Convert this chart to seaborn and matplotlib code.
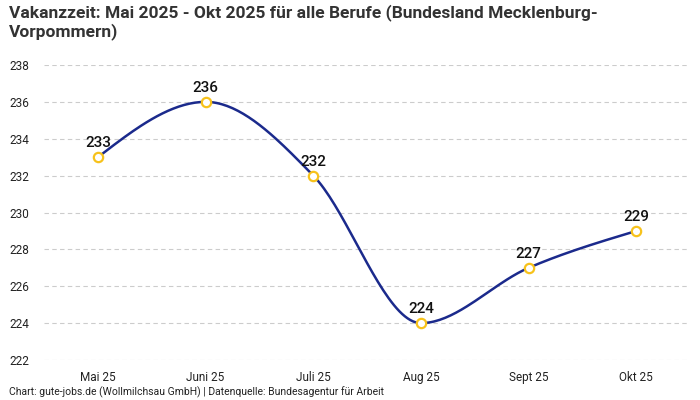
import numpy as np
import pandas as pd
import matplotlib
matplotlib.use("Agg")
import matplotlib.pyplot as plt
import seaborn as sns

# Vakanzzeit Mecklenburg-Vorpommern, alle Berufe
months = ["Mai 25", "Juni 25", "Juli 25", "Aug 25", "Sept 25", "Okt 25"]
days = [233, 236, 232, 224, 227, 229]
y_ticks = [222, 224, 226, 228, 230, 232, 234, 236, 238]

title = "Vakanzzeit: Mai 2025 - Okt 2025 für alle Berufe (Bundesland Mecklenburg-\nVorpommern)"
source = "Chart: gute-jobs.de (Wollmilchsau GmbH) | Datenquelle: Bundesagentur für Arbeit"

line_col = "#1b2a8c"
dot_col = "#f7c21b"


def monotone_curve(x, y, n=40):
    # monotone cubic (like d3 curveMonotoneX)
    x = np.asarray(x, float)
    y = np.asarray(y, float)
    h = np.diff(x)
    s = np.diff(y) / h
    m = np.zeros_like(y)
    for i in range(1, len(y) - 1):
        if s[i - 1] * s[i] <= 0:
            m[i] = 0
        else:
            p = (s[i - 1] * h[i] + s[i] * h[i - 1]) / (h[i - 1] + h[i])
            m[i] = (np.sign(s[i - 1]) + np.sign(s[i])) * min(abs(s[i - 1]), abs(s[i]), 0.5 * abs(p))
    m[0] = (3 * s[0] - m[1]) / 2
    m[-1] = (3 * s[-1] - m[-2]) / 2
    xs, ys = [], []
    for i in range(len(h)):
        t = np.linspace(0, 1, n, endpoint=(i == len(h) - 1))
        h00 = 2 * t**3 - 3 * t**2 + 1
        h10 = t**3 - 2 * t**2 + t
        h01 = -2 * t**3 + 3 * t**2
        h11 = t**3 - t**2
        xs.append(x[i] + t * h[i])
        ys.append(h00 * y[i] + h10 * h[i] * m[i] + h01 * y[i + 1] + h11 * h[i] * m[i + 1])
    return np.concatenate(xs), np.concatenate(ys)


sns.set_theme(style="white")
plt.rcParams["font.family"] = ["Roboto", "DejaVu Sans"]

df = pd.DataFrame({"pos": np.arange(len(months)), "days": days})
cx, cy = monotone_curve(df["pos"], df["days"])
curve = pd.DataFrame({"pos": cx, "days": cy})

fig = plt.figure(figsize=(7, 4), dpi=100)
ax = fig.add_axes([0.063, 0.1, 0.923, 0.7375])

sns.lineplot(data=curve, x="pos", y="days", ax=ax, color=line_col, linewidth=1.8, sort=False)
sns.scatterplot(data=df, x="pos", y="days", ax=ax, s=45, color="white",
                edgecolor=dot_col, linewidth=1.6, zorder=5, clip_on=False)

for p, v in zip(df["pos"], df["days"]):
    ax.annotate(str(v), (p, v), xytext=(0, 5), textcoords="offset points",
                ha="center", va="bottom", fontsize=11, fontweight="medium", color="#111111")

ax.set_xlim(-0.5, len(months) - 0.5)
ax.set_ylim(222, 238)
ax.set_yticks(y_ticks)
ax.set_xticks(df["pos"])
ax.set_xticklabels(months)
ax.set_xlabel("")
ax.set_ylabel("")
ax.tick_params(axis="both", length=0, labelsize=8.5, colors="#222222")
ax.tick_params(axis="y", pad=25)
ax.tick_params(axis="x", pad=8)
for lbl in ax.get_yticklabels():
    lbl.set_horizontalalignment("left")
ax.yaxis.grid(True, color="#cccccc", linestyle=(0, (4, 3)), linewidth=0.8)
ax.set_axisbelow(True)
sns.despine(ax=ax, left=True, bottom=True)

fig.text(0.013, 0.99, title, ha="left", va="top", fontsize=12.5, fontweight="bold", color="#333333",
         linespacing=1.15)
fig.text(0.013, 0.005, source, ha="left", va="bottom", fontsize=7.5, color="#222222")

fig.savefig("out.png", dpi=100)
